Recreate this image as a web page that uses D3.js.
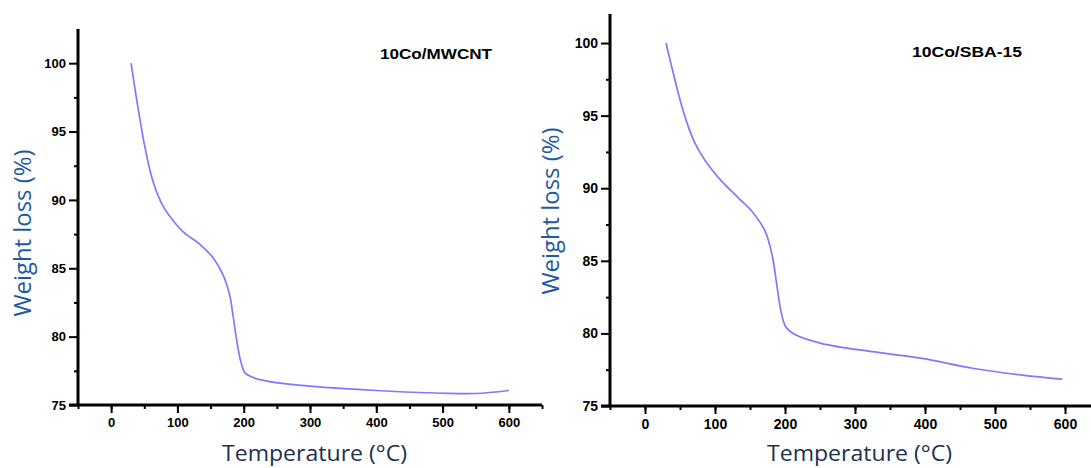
<!DOCTYPE html>
<html>
<head>
<meta charset="utf-8">
<script src="https://cdn.jsdelivr.net/npm/d3@7"></script>
<style>
    body { margin: 0; background: #fff; }
    .tick-label { font-family: "Liberation Sans", Arial, sans-serif; font-weight: bold; fill: #000; }
    .panel-title { font-family: "Liberation Sans", Arial, sans-serif; font-weight: bold; fill: #000; }
    .axis-title { font-family: "Open Sans", sans-serif; }
</style>
</head>
<body>
<svg width="1091" height="468"></svg>
<script>
    // 10Co/MWCNT
    var tempA = [30, 40, 50, 60, 70, 80, 95, 110, 134, 154, 169, 179, 184, 190, 196, 202, 215, 235, 255, 300, 400, 500, 550, 600];
    var weightA = [100, 96.9, 94.1, 91.9, 90.4, 89.4, 88.4, 87.6, 86.75, 85.75, 84.5, 83.0, 81.5, 79.55, 78.1, 77.35, 77.0, 76.75, 76.6, 76.38, 76.06, 75.86, 75.84, 76.06];

    // 10Co/SBA-15
    var tempB = [30, 40, 50, 60, 70, 80, 95, 110, 134, 153, 172, 182, 188, 194, 201, 215, 253, 325, 396, 468, 539, 596];
    var weightB = [100, 98.0, 96.1, 94.5, 93.25, 92.35, 91.3, 90.45, 89.3, 88.4, 87.0, 85.3, 83.45, 81.6, 80.46, 79.9, 79.3, 78.74, 78.28, 77.6, 77.13, 76.85];

    var xTicks = [0, 100, 200, 300, 400, 500, 600];
    var yTicks = [75, 80, 85, 90, 95, 100];

    var svg = d3.select("svg");

    var panels = [
        {t: tempA, w: weightA, title: "10Co/MWCNT",
         x0: 78, x1: 542, y0: 405, y1: 29, yMax: 102.5, fs: 13,
         titleX: 380, titleY: 59, titleW: 112,
         xtX: 222, xtY: 461, ytX: 31, ytY: 233},
        {t: tempB, w: weightB, title: "10Co/SBA-15",
         x0: 610, x1: 1100, y0: 406, y1: 14, yMax: 102, fs: 14,
         titleX: 912, titleY: 57, titleW: 110,
         xtX: 767, xtY: 461, ytX: 559, ytY: 211}
    ];

    panels.forEach(function(p) {
        var x = d3.scaleLinear().domain([-50, 650]).range([p.x0, p.x1]);
        var y = d3.scaleLinear().domain([75, p.yMax]).range([p.y0, p.y1]);
        var g = svg.append("g");

        // minor ticks
        g.append("g")
            .attr("transform", "translate(0," + p.y0 + ")")
            .call(d3.axisBottom(x).tickValues(d3.range(-50, 651, 50)).tickSize(4).tickFormat(""))
            .call(function(s) { s.select(".domain").remove(); s.selectAll("line").attr("stroke-width", 2); });
        g.append("g")
            .attr("transform", "translate(" + p.x0 + ",0)")
            .call(d3.axisLeft(y).tickValues(d3.range(77.5, p.yMax, 5)).tickSize(4).tickFormat(""))
            .call(function(s) { s.select(".domain").remove(); s.selectAll("line").attr("stroke-width", 2); });

        // major ticks
        var xa = g.append("g")
            .attr("transform", "translate(0," + p.y0 + ")")
            .call(d3.axisBottom(x).tickValues(xTicks).tickSize(8).tickPadding(5).tickSizeOuter(0));
        xa.select(".domain").attr("stroke-width", 3).attr("d", "M" + (p.x0 - 9) + ",0H" + p.x1);
        xa.selectAll("line").attr("stroke-width", 2);
        xa.selectAll("text").attr("class", "tick-label").style("font-size", p.fs + "px");

        var ya = g.append("g")
            .attr("transform", "translate(" + p.x0 + ",0)")
            .call(d3.axisLeft(y).tickValues(yTicks).tickSize(9).tickPadding(3).tickSizeOuter(0));
        ya.select(".domain").attr("stroke-width", 3).attr("d", "M0," + p.y1 + "V" + p.y0);
        ya.selectAll("line").attr("stroke-width", 2);
        ya.selectAll("text").attr("class", "tick-label").style("font-size", p.fs + "px");

        // curve
        var pts = p.t.map(function(d, i) { return [d, p.w[i]]; });
        g.append("path")
            .datum(pts)
            .attr("fill", "none")
            .attr("stroke", "#7b7bff")
            .attr("stroke-width", 1.7)
            .attr("d", d3.line().x(function(d) { return x(d[0]); }).y(function(d) { return y(d[1]); }).curve(d3.curveCatmullRom.alpha(0.5)));

        g.append("text")
            .attr("class", "panel-title")
            .attr("x", p.titleX).attr("y", p.titleY)
            .attr("textLength", p.titleW).attr("lengthAdjust", "spacingAndGlyphs")
            .style("font-size", "15px")
            .text(p.title);

        g.append("text")
            .attr("class", "axis-title")
            .attr("x", p.xtX).attr("y", p.xtY)
            .attr("textLength", 185).attr("lengthAdjust", "spacingAndGlyphs")
            .style("font-size", "22px").attr("fill", "#1d3050")
            .text("Temperature (°C)");

        g.append("text")
            .attr("class", "axis-title")
            .attr("transform", "translate(" + p.ytX + "," + p.ytY + ") rotate(-90)")
            .attr("text-anchor", "middle")
            .attr("textLength", 167).attr("lengthAdjust", "spacingAndGlyphs")
            .style("font-size", "23px").attr("fill", "#1f5aa0")
            .text("Weight loss (%)");
    });
</script>
</body>
</html>
